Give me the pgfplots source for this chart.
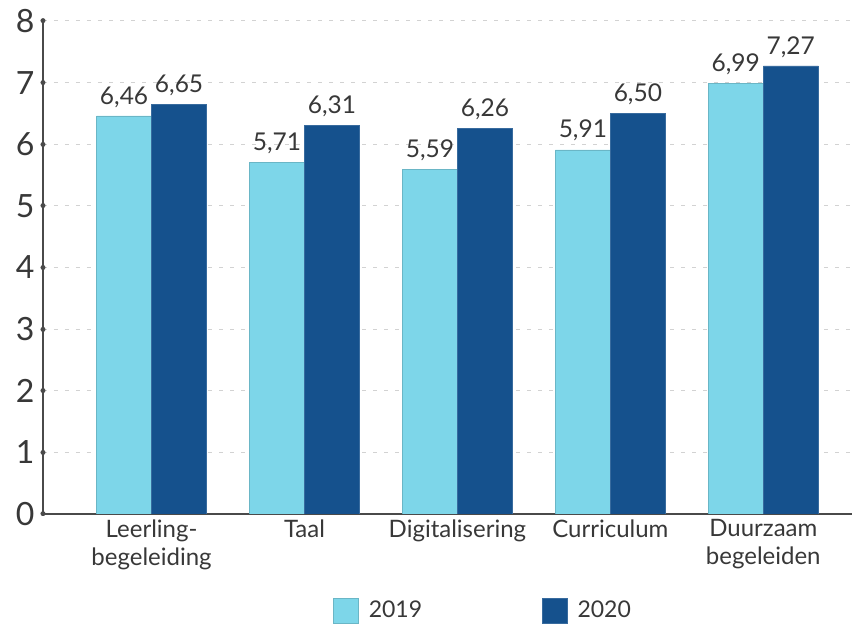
\documentclass[border=0pt]{standalone}
\usepackage{pgfplots}
\pgfplotsset{compat=1.18}
\usepackage{fontspec}
\setmainfont{Lato}
\definecolor{lightb}{HTML}{7DD6E9}
\definecolor{darkb}{HTML}{15518D}
\definecolor{txt}{HTML}{383838}
\definecolor{axc}{HTML}{4A4A4A}
\begin{document}
\begin{tikzpicture}
\path[use as bounding box] (-43pt,-114pt) rectangle (809pt,514pt);
\begin{axis}[
  at={(0pt,0pt)}, anchor=south west,
  scale only axis,
  width=809pt, height=493pt,
  xmin=-0.71, xmax=4.58,
  ymin=0, ymax=8,
  ytick={0,1,2,3,4,5,6,7,8},
  xtick={0,1,2,3,4},
  xticklabels={{Leerling-\\begeleiding},Taal,Digitalisering,Curriculum,{Duurzaam\\begeleiden}},
  xticklabel style={align=center, font=\fontsize{24}{28}\selectfont, text=txt, yshift=-2pt},
  yticklabel style={font=\fontsize{32}{32}\selectfont, text=txt, xshift=-5pt},
  /pgf/number format/assume math mode=true,
  axis x line=bottom, axis y line=left,
  axis line style={-, axc, line width=1.8pt},
  x tick style={draw=none},
  y tick style={axc, line width=5pt, line cap=round},
  major tick length=0.01pt,
  ymajorgrids,
  grid style={gray!35, line width=1pt, dash pattern=on 4pt off 7pt},
  ybar, bar width=55pt,
  nodes near coords={\pgfmathprintnumber[use comma,fixed,fixed zerofill,precision=2,assume math mode=true]{\pgfplotspointmeta}},
  nodes near coords style={font=\fontsize{24.5}{24.5}\selectfont, text=txt, yshift=5pt},
  legend columns=2,
  legend style={draw=none, fill=none, at={(0.355,-0.165)}, anchor=north west,
    font=\fontsize{23}{23}\selectfont, text=txt,
    /tikz/every even column/.append style={column sep=118pt}},
  legend image code/.code={\fill[#1] (0pt,-12.5pt) rectangle (25pt,12.5pt);},
]
\addplot[fill=lightb, draw=lightb!85!black, line width=0.4pt, bar shift=-27.5pt] coordinates {(0,6.46) (1,5.71) (2,5.59) (3,5.91) (4,6.99)};
\addplot[fill=darkb, draw=darkb!85!white, line width=0.4pt, bar shift=27.5pt] coordinates {(0,6.65) (1,6.31) (2,6.26) (3,6.50) (4,7.27)};
\legend{\hspace{8pt}2019,\hspace{8pt}2020}
\end{axis}
\end{tikzpicture}
\end{document}
